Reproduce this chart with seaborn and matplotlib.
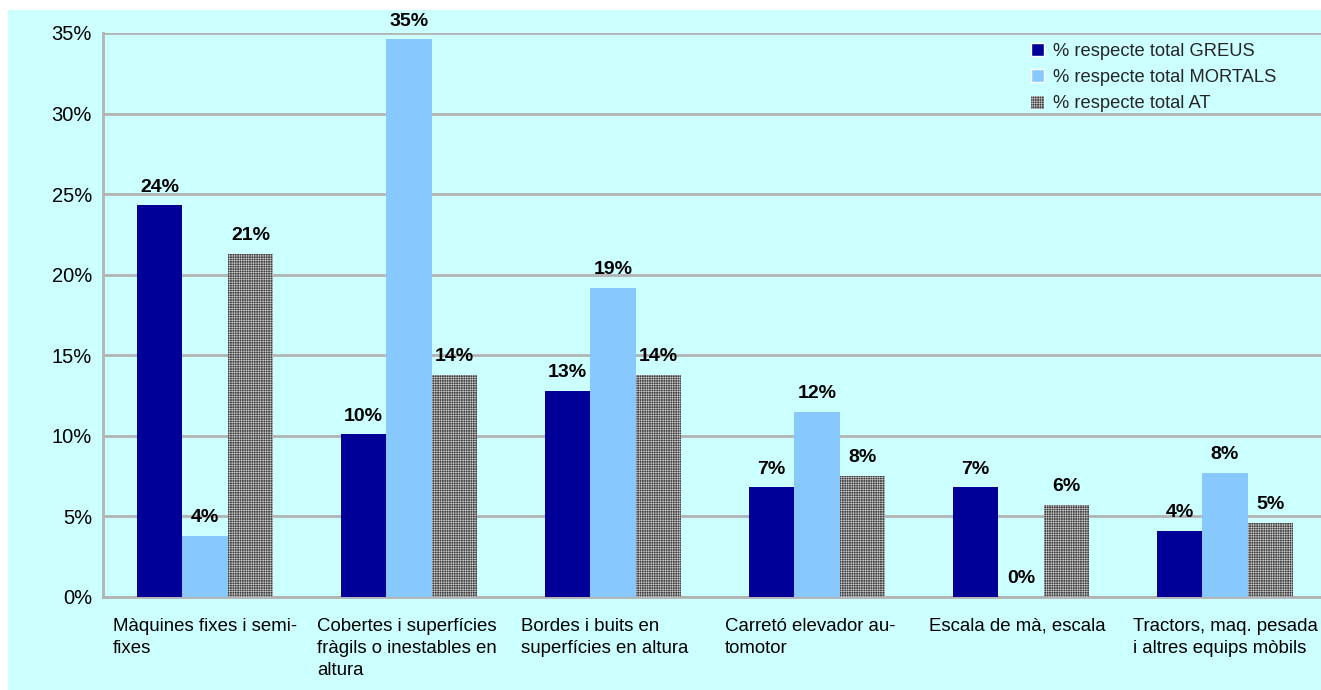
import matplotlib
matplotlib.use("Agg")
import matplotlib.pyplot as plt
from matplotlib.patches import Rectangle, Patch
from matplotlib.ticker import FuncFormatter
import seaborn as sns
import pandas as pd

categories = [
    "Màquines fixes i semi-\nfixes",
    "Cobertes i superfícies\nfràgils o inestables en\naltura",
    "Bordes i buits en\nsuperfícies en altura",
    "Carretó elevador au-\ntomotor",
    "Escala de mà, escala",
    "Tractors, maq. pesada\ni altres equips mòbils",
]
series = ["% respecte total GREUS", "% respecte total MORTALS", "% respecte total AT"]
greus = [24.3, 10.1, 12.8, 6.8, 6.8, 4.1]
mortals = [3.8, 34.6, 19.2, 11.5, 0.0, 7.7]
at_total = [21.3, 13.8, 13.8, 7.5, 5.7, 4.6]
yticks = [0, 5, 10, 15, 20, 25, 30, 35]

colors = ["#000099", "#87C8FF", "#3c3c3c"]
hatch_col = "#c4c4c4"

rows = []
for s, vals in zip(series, [greus, mortals, at_total]):
    for c, v in zip(categories, vals):
        rows.append({"cat": c, "serie": s, "val": v})
df = pd.DataFrame(rows)

sns.set_theme(style="white")
plt.rcParams["font.family"] = ["Liberation Sans", "DejaVu Sans"]
plt.rcParams["hatch.linewidth"] = 0.45

W, H = 1321, 690
fig = plt.figure(figsize=(W / 100, H / 100), dpi=100)
fig.patch.set_facecolor("white")
fig.patches.append(Rectangle((8 / W, 0), 1, 1 - 10 / H, transform=fig.transFigure,
                             facecolor="#CCFFFF", edgecolor="none", zorder=-1))

ax = fig.add_axes([103 / W, 1 - 597 / H, 1224 / W, 564 / H])
ax.set_facecolor("#CCFFFF")

sns.barplot(data=df, x="cat", y="val", hue="serie", palette=colors, width=0.67,
            ax=ax, legend=False, saturation=1, zorder=3)

for i, cont in enumerate(ax.containers):
    for bar in cont:
        if i == 2:
            bar.set_hatch("+++++++")
            bar.set_edgecolor(hatch_col)
            bar.set_linewidth(0)
        else:
            bar.set_edgecolor("none")
    ax.bar_label(cont, labels=[f"{v.get_height():.0f}%" for v in cont], padding=7,
                 fontsize=14, fontweight="bold", color="black")

ax.set_xlim(-0.5, 5.5)
ax.set_ylim(0, 35)
ax.set_yticks(yticks)
ax.yaxis.set_major_formatter(FuncFormatter(lambda v, p: f"{v:.0f}%"))
ax.grid(axis="y", color="#B3B3B3", linewidth=2, zorder=0)
ax.set_axisbelow(True)
for side in ["top", "right"]:
    ax.spines[side].set_visible(False)
for side in ["left", "bottom"]:
    ax.spines[side].set_color("#B3B3B3")
    ax.spines[side].set_linewidth(2)
ax.tick_params(axis="y", length=0, labelsize=14.5, pad=8, colors="black")
ax.tick_params(axis="x", length=0, labelsize=0)
ax.set_xticklabels([])
ax.set_xlabel("")
ax.set_ylabel("")

for i, c in enumerate(categories):
    ax.text(i - 0.5 + 10 / 204, -1.3, c, ha="left", va="top", fontsize=13.4,
            linespacing=1.4, color="black", transform=ax.transData, clip_on=False)

handles = [Patch(facecolor=colors[0]), Patch(facecolor=colors[1]),
           Patch(facecolor=colors[2], hatch="+++++++", edgecolor=hatch_col, linewidth=0)]
fig.legend(handles, series, loc="upper left", bbox_to_anchor=(1022 / W, 1 - 34 / H),
           frameon=False, fontsize=13.2, handlelength=0.7, handleheight=0.7,
           handletextpad=0.5, labelspacing=0.5, borderpad=0)

fig.savefig("out.png", dpi=100)
